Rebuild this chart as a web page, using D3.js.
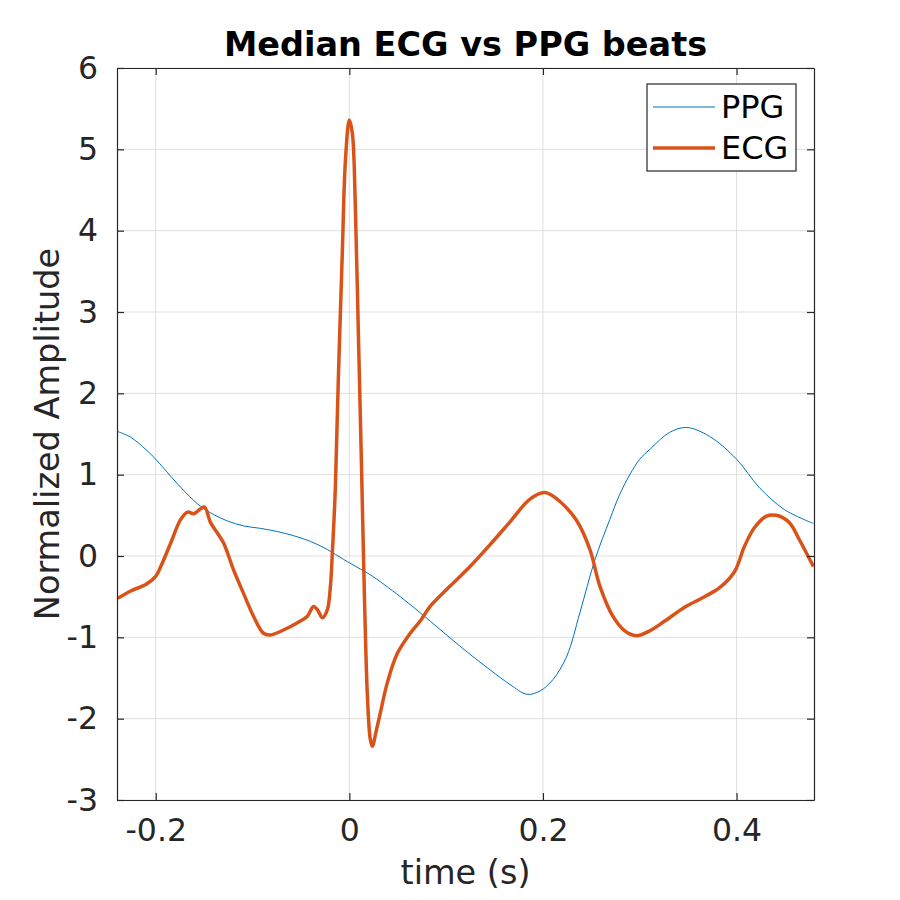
<!DOCTYPE html>
<html>
<head>
<meta charset="utf-8">
<script src="https://cdn.jsdelivr.net/npm/d3@7"></script>
<style>
  html, body { margin: 0; padding: 0; background: #fff; }
  text { font-family: "DejaVu Sans", sans-serif; }
</style>
</head>
<body>
<svg id="chart" width="900" height="900"></svg>
<script>
// ---- data ----
const ecgTime = [-0.2392,-0.2258,-0.2103,-0.2,-0.1948,-0.1845,-0.1742,-0.167,-0.1608,-0.1536,-0.1495,-0.1433,-0.1361,-0.1299,-0.1196,-0.1093,-0.099,-0.0887,-0.0814,-0.068,-0.0536,-0.0433,-0.0371,-0.033,-0.0278,-0.0227,-0.0196,-0.0175,-0.0144,-0.0113,-0.0072,-0.0041,0,0.0031,0.0062,0.0093,0.0124,0.0155,0.0186,0.0216,0.0237,0.0278,0.032,0.0392,0.0495,0.0629,0.0732,0.0835,0.1041,0.1247,0.1454,0.166,0.1866,0.2021,0.2175,0.2351,0.2485,0.2588,0.2722,0.2845,0.2969,0.3103,0.3258,0.3464,0.367,0.3825,0.398,0.4082,0.4186,0.4309,0.4412,0.4546,0.4649,0.4794];
const ecgValue = [-0.52,-0.43,-0.35,-0.25,-0.13,0.16,0.45,0.54,0.52,0.58,0.60,0.41,0.28,0.16,-0.17,-0.46,-0.74,-0.95,-0.97,-0.91,-0.82,-0.74,-0.62,-0.66,-0.76,-0.66,-0.38,0.05,0.85,2.2,3.75,4.85,5.36,5.2,4.3,2.75,1.2,-0.45,-1.7,-2.25,-2.34,-2.15,-1.93,-1.56,-1.2,-0.95,-0.8,-0.62,-0.37,-0.13,0.14,0.42,0.70,0.78,0.67,0.43,0.08,-0.37,-0.74,-0.92,-0.98,-0.92,-0.80,-0.63,-0.50,-0.39,-0.19,0.12,0.35,0.49,0.50,0.41,0.2,-0.13];

const ppgTime = [-0.2392,-0.2258,-0.2103,-0.2,-0.1845,-0.1691,-0.1536,-0.1402,-0.1258,-0.1093,-0.0918,-0.0742,-0.0577,-0.0402,-0.0227,-0.0062,0.0113,0.0216,0.0526,0.0835,0.1144,0.1454,0.166,0.1835,0.1969,0.2103,0.2247,0.2381,0.2536,0.2691,0.2794,0.2897,0.3,0.3103,0.3309,0.3485,0.3722,0.4,0.4237,0.4495,0.4794];
const ppgValue = [1.53,1.46,1.31,1.19,0.98,0.78,0.61,0.51,0.43,0.37,0.34,0.30,0.25,0.18,0.08,-0.04,-0.16,-0.23,-0.5,-0.8,-1.11,-1.4,-1.58,-1.70,-1.66,-1.52,-1.23,-0.70,-0.05,0.45,0.76,1.0,1.19,1.31,1.52,1.58,1.47,1.19,0.84,0.57,0.40];

const xTicks = [-0.2, 0, 0.2, 0.4];
const xTickLabels = ["-0.2", "0", "0.2", "0.4"];
const yTicks = [-3, -2, -1, 0, 1, 2, 3, 4, 5, 6];
const yTickLabels = ["-3", "-2", "-1", "0", "1", "2", "3", "4", "5", "6"];
const seriesNames = ["PPG", "ECG"];
const seriesColors = ["#0072BD", "#D95319"];
const titleText = "Median ECG vs PPG beats";
const xLabelText = "time (s)";
const yLabelText = "Normalized Amplitude";

// ---- layout ----
const mLeft = 117, mRight = 814, mTop = 68, mBottom = 800;
const svg = d3.select("#chart");
const x = d3.scaleLinear().domain([-0.24, 0.48]).range([mLeft, mRight]);
const y = d3.scaleLinear().domain([-3, 6]).range([mBottom, mTop]);
const axisColor = "#262626";
const tickLen = 7;
const tickFont = 31.5;

// grid
const grid = svg.append("g");
grid.selectAll("line.gx").data(xTicks).enter().append("line")
  .attr("x1", d => x(d)).attr("x2", d => x(d)).attr("y1", mTop).attr("y2", mBottom)
  .attr("stroke", "#dfdfdf").attr("stroke-width", 1);
grid.selectAll("line.gy").data(yTicks).enter().append("line")
  .attr("x1", mLeft).attr("x2", mRight).attr("y1", d => y(d)).attr("y2", d => y(d))
  .attr("stroke", "#dfdfdf").attr("stroke-width", 1);

// lines
const ecgData = ecgTime.map((t, i) => [t, ecgValue[i]]);
const ppgData = ppgTime.map((t, i) => [t, ppgValue[i]]);
const line = d3.line().x(d => x(d[0])).y(d => y(d[1])).curve(d3.curveCatmullRom.alpha(0.5));

svg.append("clipPath").attr("id", "clip").append("rect")
  .attr("x", mLeft).attr("y", mTop).attr("width", mRight - mLeft).attr("height", mBottom - mTop);

svg.append("path").datum(ppgData).attr("d", line)
  .attr("fill", "none").attr("stroke", seriesColors[0]).attr("stroke-width", 1);
svg.append("path").datum(ecgData).attr("d", line)
  .attr("fill", "none").attr("stroke", seriesColors[1]).attr("stroke-width", 3.5)
  .attr("stroke-linejoin", "round").attr("clip-path", "url(#clip)");

// axes (box with inward ticks on all sides)
const axBottom = d3.axisBottom(x).tickValues(xTicks).tickFormat((d, i) => xTickLabels[i]).tickSizeInner(-tickLen).tickSizeOuter(0).tickPadding(tickLen + 12);
const axTop = d3.axisTop(x).tickValues(xTicks).tickFormat("").tickSizeInner(-tickLen).tickSizeOuter(0);
const axLeft = d3.axisLeft(y).tickValues(yTicks).tickFormat((d, i) => yTickLabels[i]).tickSizeInner(-tickLen).tickSizeOuter(0).tickPadding(tickLen + 12);
const axRight = d3.axisRight(y).tickValues(yTicks).tickFormat("").tickSizeInner(-tickLen).tickSizeOuter(0);

function styleAxis(g) {
  g.select(".domain").attr("stroke", axisColor).attr("stroke-width", 1.2);
  g.selectAll(".tick line").attr("stroke", axisColor).attr("stroke-width", 1.2);
  g.selectAll(".tick text").attr("fill", axisColor).attr("font-size", tickFont)
    .attr("font-family", "DejaVu Sans, sans-serif");
}
svg.append("g").attr("transform", `translate(0,${mBottom})`).call(axBottom).call(styleAxis);
svg.append("g").attr("transform", `translate(0,${mTop})`).call(axTop).call(styleAxis);
svg.append("g").attr("transform", `translate(${mLeft},0)`).call(axLeft).call(styleAxis);
svg.append("g").attr("transform", `translate(${mRight},0)`).call(axRight).call(styleAxis);

// title & labels
svg.append("text").attr("x", (mLeft + mRight) / 2).attr("y", 56)
  .attr("text-anchor", "middle").attr("font-weight", "bold").attr("font-size", 33.5)
  .attr("fill", "#000").text(titleText);
svg.append("text").attr("x", (mLeft + mRight) / 2).attr("y", 884)
  .attr("text-anchor", "middle").attr("font-size", 33.5).attr("fill", axisColor).text(xLabelText);
svg.append("text").attr("transform", `translate(59,${(mTop + mBottom) / 2}) rotate(-90)`)
  .attr("text-anchor", "middle").attr("font-size", 33.5).attr("fill", axisColor).text(yLabelText);

// legend
const lg = svg.append("g");
lg.append("rect").attr("x", 647).attr("y", 84).attr("width", 149).attr("height", 87)
  .attr("fill", "#fff").attr("stroke", axisColor).attr("stroke-width", 1.2);
seriesNames.forEach((name, i) => {
  const ly = 107 + i * 41;
  lg.append("line").attr("x1", 653).attr("x2", 715).attr("y1", ly).attr("y2", ly)
    .attr("stroke", seriesColors[i]).attr("stroke-width", i === 0 ? 1 : 3.5);
  lg.append("text").attr("x", 721).attr("y", ly + 11).attr("font-size", 32)
    .attr("fill", "#000").text(name);
});
</script>
</body>
</html>
